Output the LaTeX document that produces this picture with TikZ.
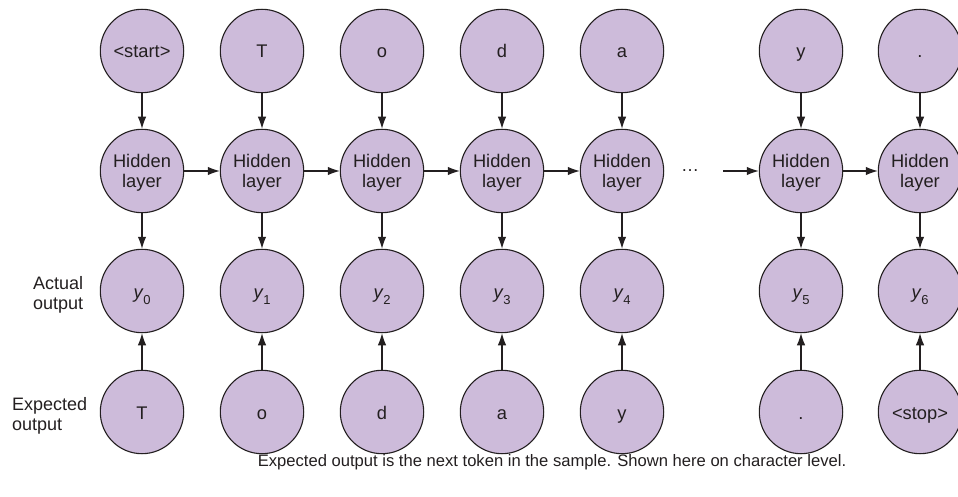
\documentclass[tikz,border=0pt]{standalone}
\usepackage{fontspec}
\setmainfont{Liberation Sans}
\usetikzlibrary{arrows.meta}
\definecolor{nodefill}{RGB}{205,187,218}
\definecolor{edgecol}{RGB}{35,31,32}
\begin{document}
\begin{tikzpicture}[x=1pt,y=-1pt,
  unit/.style={circle,draw=edgecol,line width=1.1pt,fill=nodefill,minimum size=83.4pt,inner sep=0pt,
    font=\fontsize{18.3}{20}\selectfont,align=center,text=edgecol,text height=14pt,text depth=0pt},
  hidunit/.style={unit,text height=34pt,text depth=0pt},
  conn/.style={draw=edgecol,line width=1.1pt,-{Latex[length=12pt,width=8.5pt]}},
  lbl/.style={font=\fontsize{18}{20.5}\selectfont,align=left,anchor=west,inner sep=0pt,text=edgecol}]
\useasboundingbox (0,0) rectangle (958,497);
% columns
\foreach \i/\x in {0/142,1/262,2/382,3/502,4/622,5/801,6/920}{
  \coordinate (c\i) at (\x,0);
}
% input row
\foreach \i/\t in {0/{<start>},1/T,2/o,3/d,4/a,5/y,6/.}{
  \node[unit] (in\i) at (c\i |- 0,51) {\t};
  \node[hidunit] (h\i) at (c\i |- 0,171) {Hidden\\layer};
  \node[unit] (y\i) at (c\i |- 0,291) {\textit{y}\kern-0.3pt\raisebox{-6pt}{\fontsize{13}{14}\selectfont\i}};
  \draw[conn] (in\i) -- (h\i);
  \draw[conn] (h\i) -- (y\i);
}
\foreach \i/\t in {0/T,1/o,2/d,3/a,4/y,5/.,6/{<stop>}}{
  \node[unit] (ex\i) at (c\i |- 0,412) {\t};
  \draw[conn] (ex\i) -- (y\i);
}
\foreach \a/\b in {0/1,1/2,2/3,3/4,5/6}{
  \draw[conn] (h\a) -- (h\b);
}
\node[font=\fontsize{18}{21}\selectfont,text=edgecol] (dots) at (690,171) {\dots};
\coordinate (dstart) at (723,171);
\draw[conn] (dstart) -- (h5);
% row labels
\node[lbl] (actual) at (33,295) {Actual\\output};
\node[lbl] (expected) at (12,416) {Expected\\output};
% caption
\node[font=\fontsize{16.6}{20}\selectfont,text=edgecol,inner sep=0pt] (caption) at (552,462) {Expected output is the next token in the sample. Shown here on character level.};
\end{tikzpicture}
\end{document}
